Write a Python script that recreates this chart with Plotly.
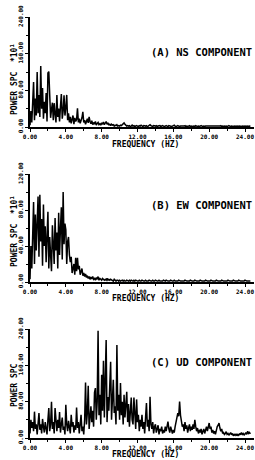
import plotly.graph_objects as go

FREQ_STEP = 0.1

ns_power = [
    4, 35, 10, 48, 98, 15, 62, 25, 120, 30,
    70, 22, 133, 40, 85, 18, 55, 30, 74, 12,
    118, 121, 45, 20, 38, 53, 15, 52, 28, 10,
    70, 22, 40, 12, 45, 72, 18, 35, 69, 25,
    42, 70, 15, 30, 10, 22, 8, 18, 25, 6,
    20, 12, 16, 41, 10, 18, 8, 14, 20, 33,
    10, 15, 6, 12, 18, 9, 22, 12, 7, 14,
    5, 10, 6, 12, 4, 8, 10, 5, 7, 4,
    9, 6, 11, 5, 10, 12, 6, 9, 4, 7,
    3, 6, 4, 5, 2, 4, 3, 5, 2, 3,
    2, 4, 3, 5, 7, 9, 6, 4, 2, 3,
    2, 3, 1, 2, 4, 2, 3, 1, 2, 3,
    2, 1, 3, 2, 4, 2, 1, 3, 2, 2,
    3, 1, 2, 4, 5, 3, 2, 1, 3, 2,
    2, 3, 1, 2, 2, 3, 1, 2, 3, 2,
    1, 2, 3, 2, 1, 3, 2, 2, 1, 2,
    3, 4, 2, 1, 2, 3, 2, 1, 2, 2,
    1, 2, 2, 3, 1, 2, 1, 2, 3, 1,
    2, 1, 2, 2, 1, 3, 2, 1, 2, 1,
    2, 3, 2, 1, 2, 1, 2, 2, 1, 2,
    1, 2, 1, 2, 2, 1, 2, 1, 2, 1,
    2, 1, 2, 3, 1, 2, 1, 2, 1, 2,
    1, 2, 3, 2, 1, 2, 1, 1, 2, 1,
    2, 1, 2, 1, 2, 1, 1, 2, 1, 2,
    1, 2, 1, 2, 1, 2, 1,
]

ew_power = [
    3, 40, 15, 70, 89, 20, 75, 35, 60, 95,
    28, 97, 45, 70, 18, 86, 40, 62, 22, 55,
    78, 15, 50, 30, 12, 63, 40, 20, 71, 35,
    55, 15, 77, 30, 60, 83, 25, 100, 42, 65,
    58, 20, 45, 50, 30, 22, 28, 10, 15, 20,
    8, 27, 12, 27, 14, 18, 8, 12, 15, 7,
    10, 6, 9, 5, 7, 4, 6, 3, 5, 4,
    6, 3, 4, 2, 5, 3, 6, 2, 4, 3,
    2, 4, 3, 2, 3, 2, 4, 2, 3, 2,
    3, 2, 2, 1, 3, 2, 1, 2, 2, 1,
    2, 1, 2, 2, 1, 2, 1, 1, 2, 1,
    1, 2, 1, 2, 1, 1, 2, 1, 2, 1,
    1, 1, 2, 1, 1, 2, 1, 1, 1, 2,
    1, 1, 1, 2, 1, 1, 1, 2, 1, 1,
    2, 1, 1, 1, 2, 1, 1, 1, 1, 2,
    1, 1, 2, 1, 1, 1, 1, 2, 1, 1,
    1, 2, 1, 1, 1, 1, 2, 1, 1, 1,
    1, 1, 1, 2, 1, 1, 1, 1, 1, 2,
    1, 1, 1, 1, 2, 1, 1, 1, 1, 1,
    2, 1, 1, 1, 1, 1, 2, 1, 1, 1,
    1, 1, 2, 1, 1, 1, 1, 1, 2, 1,
    1, 1, 1, 1, 2, 1, 1, 1, 1, 1,
    1, 2, 1, 1, 1, 1, 1, 2, 1, 1,
    1, 1, 1, 2, 1, 1, 1, 1, 1, 1,
    2, 1, 1, 1, 1, 1, 1,
]

ud_power = [
    10, 40, 22, 35, 15, 58, 20, 30, 8, 35,
    55, 18, 30, 10, 42, 25, 12, 35, 20, 8,
    40, 66, 15, 30, 80, 20, 35, 10, 66, 28,
    15, 40, 22, 57, 12, 30, 45, 18, 25, 8,
    73, 30, 15, 38, 20, 10, 51, 25, 35, 12,
    28, 18, 67, 22, 35, 10, 30, 51, 15, 25,
    8, 40, 122, 30, 55, 115, 20, 45, 70, 35,
    60, 25, 100, 110, 40, 80, 236, 50, 95, 30,
    139, 60, 170, 45, 110, 216, 35, 90, 60, 120,
    168, 40, 85, 128, 55, 70, 30, 205, 60, 95,
    40, 121, 50, 80, 30, 95, 45, 65, 102, 35,
    75, 25, 60, 89, 40, 30, 89, 45, 20, 85,
    35, 51, 15, 40, 25, 51, 20, 35, 10, 45,
    77, 25, 40, 15, 91, 30, 20, 35, 10, 25,
    30, 12, 22, 28, 8, 20, 15, 25, 10, 18,
    12, 25, 15, 30, 36, 20, 12, 25, 15, 10,
    18, 12, 25, 35, 45, 55, 48, 80, 50, 38,
    25, 30, 15, 35, 20, 28, 12, 22, 30, 15,
    25, 18, 30, 20, 40, 25, 15, 22, 10, 18,
    12, 20, 8, 15, 20, 10, 18, 25, 15, 28,
    33, 20, 25, 12, 18, 10, 15, 8, 20, 25,
    28, 33, 22, 15, 20, 10, 12, 8, 10, 14,
    8, 10, 6, 9, 12, 7, 10, 5, 8, 6,
    9, 5, 8, 6, 10, 7, 12, 8, 10, 6,
    9, 12, 8, 15, 10, 12, 9,
]

panel_titles = ["(A) NS COMPONENT", "(B) EW COMPONENT", "(C) UD COMPONENT"]
y_titles = ["POWER SPC  *10<sup>1</sup>", "POWER SPC  *10<sup>1</sup>", "POWER SPC"]
y_ranges = [240, 120, 240]
y_tickvals = [[0, 80, 160, 240], [0, 40, 80, 120], [0, 80, 160, 240]]
x_tickvals = [0, 4, 8, 12, 16, 20, 24]
x_ticktext = ["0.00", "4.00", "8.00", "12.00", "16.00", "20.00", "24.00"]
x_title = "FREQUENCY (HZ)"
series = [ns_power, ew_power, ud_power]

W, H = 255, 460
L, R = 30, 1
PLOT_W = W - L - R
X_MAX = PLOT_W / (215 / 24)  # 24 Hz spans ~215 px

# pixel rows (top, bottom) of each panel's plot area
panel_px = [(17, 127), (174, 282), (329, 438)]
title_rows = [52, 205, 362]
ytitle_rows = [80, 232, 385]
xtitle_rows = [144, 298, 454]

FONT = "DejaVu Sans Mono"

fig = go.Figure()
annotations = []
for i, vals in enumerate(series):
    n = i + 1
    xa = "x" if n == 1 else f"x{n}"
    ya = "y" if n == 1 else f"y{n}"
    freq = [round(k * FREQ_STEP, 1) for k in range(len(vals))]
    fig.add_trace(go.Scatter(
        x=freq, y=vals, mode="lines",
        line=dict(color="black", width=1.5),
        xaxis=xa, yaxis=ya, showlegend=False, hoverinfo="skip",
    ))
    top, bot = panel_px[i]
    dom = [1 - bot / H, 1 - top / H]
    xkey = "xaxis" if n == 1 else f"xaxis{n}"
    ykey = "yaxis" if n == 1 else f"yaxis{n}"
    fig.update_layout(**{
        xkey: dict(
            domain=[0, 1], anchor=ya, range=[0, X_MAX], automargin=False,
            ticklabeloverflow="allow",
            showline=True, linecolor="black", linewidth=1.5,
            showgrid=False, zeroline=False,
            tickvals=x_tickvals, ticktext=x_ticktext,
            ticks="outside", ticklen=3, tickwidth=1.2, tickcolor="black",
            minor=dict(dtick=2, ticks="outside", ticklen=2, tickcolor="black", tickwidth=1),
            tickfont=dict(family=FONT, size=6, color="black", weight="bold"),
        ),
        ykey: dict(
            domain=dom, anchor=xa, range=[0, y_ranges[i]], automargin=False,
            ticklabeloverflow="allow",
            showline=True, linecolor="black", linewidth=1.5,
            showgrid=False, zeroline=False,
            tickvals=y_tickvals[i],
            ticktext=[f"{v:.2f}" for v in y_tickvals[i]],
            tickangle=-90,
            ticks="outside", ticklen=3, tickwidth=1.2, tickcolor="black",
            minor=dict(dtick=y_ranges[i] / 6, ticks="outside", ticklen=2, tickcolor="black", tickwidth=1),
            tickfont=dict(family=FONT, size=6, color="black", weight="bold"),
        ),
    })
    annotations.append(dict(
        text=panel_titles[i], xref="paper", yref="paper",
        x=(254 - L) / PLOT_W, y=1 - title_rows[i] / H, xanchor="right", yanchor="middle",
        showarrow=False, font=dict(family=FONT, size=10.5, color="black", weight="bold"),
    ))
    annotations.append(dict(
        text=y_titles[i], xref="paper", yref="paper",
        x=(14 - L) / PLOT_W, y=1 - ytitle_rows[i] / H,
        xanchor="center", yanchor="middle", textangle=-90,
        showarrow=False, font=dict(family=FONT, size=8, color="black", weight="bold"),
    ))
    annotations.append(dict(
        text=x_title, xref="paper", yref="paper",
        x=(145 - L) / PLOT_W, y=1 - xtitle_rows[i] / H,
        xanchor="center", yanchor="middle",
        showarrow=False, font=dict(family=FONT, size=8, color="black", weight="bold"),
    ))

fig.update_layout(
    width=W, height=H,
    margin=dict(l=L, r=R, t=0, b=0),
    paper_bgcolor="white", plot_bgcolor="white",
    annotations=annotations,
)

fig.write_html(
    "out.html",
    config={"displayModeBar": False},
    post_script="document.body.style.margin='0';document.body.style.overflow='hidden';",
)
